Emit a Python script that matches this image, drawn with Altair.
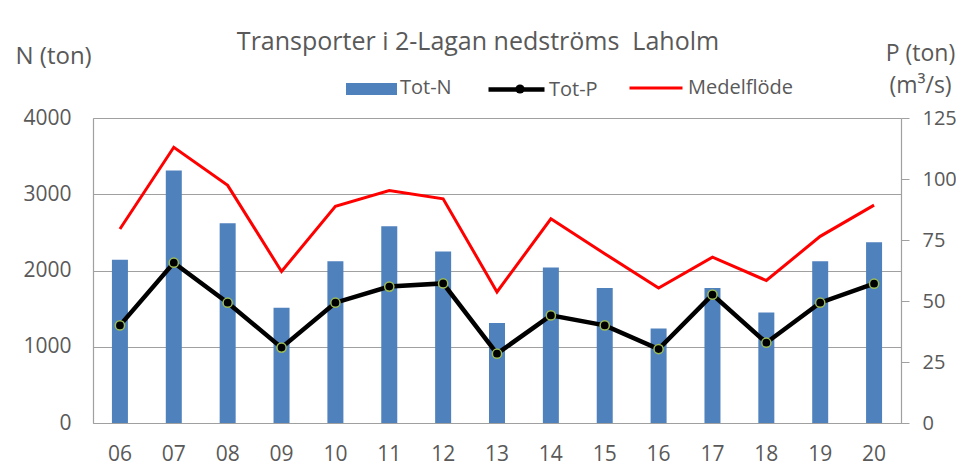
import altair as alt
import pandas as pd

years = ["06", "07", "08", "09", "10", "11", "12", "13", "14", "15", "16", "17", "18", "19", "20"]
tot_n = [2140, 3310, 2620, 1510, 2120, 2580, 2250, 1310, 2040, 1770, 1240, 1770, 1450, 2120, 2370]
tot_p = [40.0, 65.7, 49.3, 30.9, 49.3, 55.9, 57.2, 28.4, 44.1, 40.0, 30.3, 52.6, 32.9, 49.3, 57.1]
flow = [79.5, 113.0, 97.4, 62.1, 88.8, 95.3, 91.9, 53.7, 83.7, 69.4, 55.3, 68.0, 58.4, 76.5, 89.3]

left_ticks = [0, 1000, 2000, 3000, 4000]
right_ticks = [0, 25, 50, 75, 100, 125]

TXT = "#595959"
GRID = "#A0A0A0"
FONT = "Open Sans"

df = pd.DataFrame({
    "year": years, "totn": tot_n, "totp": tot_p, "flow": flow,
    "kn": ["Tot-N"] * len(years), "kp": ["Tot-P"] * len(years),
    "kp2": ["Tot-P "] * len(years), "kf": ["Medelflöde"] * len(years),
})

x = alt.X("year:N", sort=years,
          scale=alt.Scale(paddingInner=0, paddingOuter=0),
          axis=alt.Axis(title=None, labelAngle=0, ticks=False, grid=False,
                        domainColor=GRID, domainWidth=1.2, labelPadding=20,
                        labelFontSize=21, labelColor=TXT, labelFont=FONT))


def yR(field):
    return alt.Y(f"{field}:Q", scale=alt.Scale(domain=[0, 125]),
                 axis=alt.Axis(orient="right", values=right_ticks, grid=False, format="d",
                               title=["P (ton)", "(m³/s)"], titleAngle=0, titleX=19, titleY=-65,
                               titleAlign="center", titleBaseline="middle", titleLineHeight=32,
                               titleFontSize=23, titleFontWeight="normal", titleColor=TXT, titleFont=FONT,
                               tickSize=8, tickColor=GRID, domainColor=GRID, domainWidth=1.2,
                               labelPadding=13, labelFontSize=20, labelColor=TXT, labelFont=FONT))


def leg(lx, ly, **kw):
    return alt.Legend(orient="none", legendX=lx, legendY=ly, title=None, padding=0,
                      labelFontSize=20, labelColor=TXT, labelFont=FONT, **kw)


bars = alt.Chart(df).mark_bar(size=16).encode(
    x=x,
    y=alt.Y("totn:Q", scale=alt.Scale(domain=[0, 4000]),
            axis=alt.Axis(values=left_ticks, ticks=False, grid=True, gridColor=GRID, format="d",
                          domainColor=GRID, domainWidth=1.2,
                          title="N (ton)", titleAngle=0, titleX=-78, titleY=-62,
                          titleAlign="left", titleBaseline="middle", titleFontSize=24,
                          titleFontWeight="normal", titleColor=TXT, titleFont=FONT,
                          labelPadding=22, labelFontSize=21, labelColor=TXT, labelFont=FONT)),
    color=alt.Color("kn:N", scale=alt.Scale(domain=["Tot-N"], range=["#4F81BD"]),
                    legend=leg(253, -56, symbolType="M-1,-0.18H1V0.29H-1Z", symbolSize=2601,
                               symbolStrokeWidth=0, labelOffset=3)),
)

red = alt.Chart(df).mark_line(strokeWidth=3).encode(
    x=x, y=yR("flow"),
    stroke=alt.Stroke("kf:N", scale=alt.Scale(domain=["Medelflöde"], range=["#FF0000"]),
                      legend=leg(535, -58, symbolType="stroke", symbolSize=2809,
                                 symbolStrokeWidth=3, labelOffset=4)),
)

pline = alt.Chart(df).mark_line(color="black", strokeWidth=4.5).encode(
    x=x, y=yR("totp"),
    opacity=alt.Opacity("kp:O", scale=alt.Scale(domain=["Tot-P"], range=[1]),
                        legend=leg(393, -59, symbolType="stroke", symbolSize=3136,
                                   symbolStrokeColor="black", symbolStrokeWidth=4.5,
                                   labelOffset=2)),
)

pts = alt.Chart(df).mark_point(filled=True, size=85, fill="black", stroke="#9BBB59",
                               strokeWidth=1.5, opacity=1).encode(
    x=x, y=yR("totp"),
    shape=alt.Shape("kp2:N", scale=alt.Scale(domain=["Tot-P "], range=["circle"]),
                    legend=leg(417, -39, symbolFillColor="black", symbolStrokeColor="#9BBB59",
                               symbolStrokeWidth=1.5, symbolSize=85, labelExpr="''")),
)

right = alt.layer(red, pline, pts)

chart = alt.layer(bars, right).resolve_scale(y="independent").properties(
    width=808, height=305,
    title=alt.Title("Transporter i 2-Lagan nedströms\u00a0 Laholm", fontSize=25, color=TXT,
                    font=FONT, fontWeight="normal", anchor="middle", dx=-19, dy=17),
    padding={"left": 85, "top": 110, "right": 55, "bottom": 42},
    autosize="none",
).configure_view(stroke="transparent").configure(background="white")

chart.save("out.html", embed_options={"renderer": "svg", "actions": False})
